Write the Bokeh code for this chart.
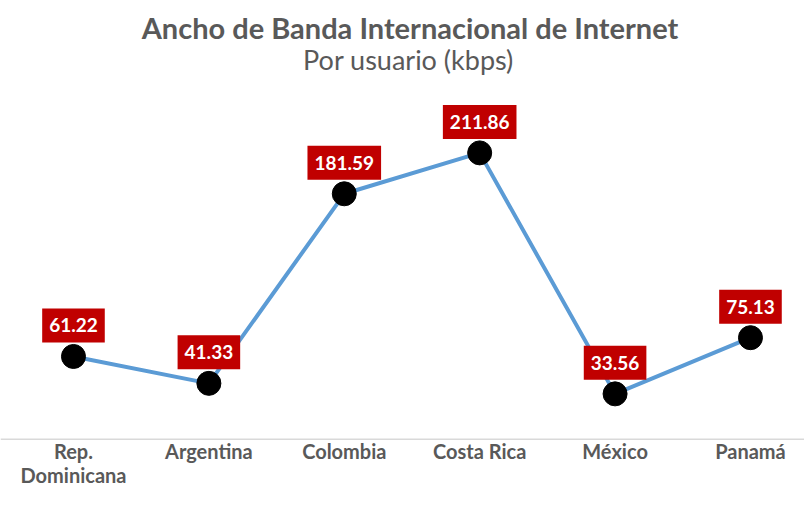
from bokeh.plotting import figure
from bokeh.models import Range1d, Label, ColumnDataSource, Span
from bokeh.core.properties import value
from bokeh.embed import file_html
from bokeh.resources import INLINE

categories = ["Rep.\nDominicana", "Argentina", "Colombia", "Costa Rica", "México", "Panamá"]
values = [61.22, 41.33, 181.59, 211.86, 33.56, 75.13]
label_texts = ["61.22", "41.33", "181.59", "211.86", "33.56", "75.13"]
xs = list(range(len(categories)))
baseline = [0] * len(categories)

src = ColumnDataSource(dict(x=xs, y=values, t=label_texts, cat=categories, base=baseline))

W, H = 804, 494
p = figure(width=W, height=H, output_backend="svg", toolbar_location=None,
           x_range=Range1d(-0.539, 5.399), y_range=Range1d(-40.9, 324.6),
           min_border_left=0, min_border_right=0, min_border_top=0, min_border_bottom=0)
p.outline_line_color = None
p.grid.visible = False
p.axis.visible = False

p.add_layout(Span(location=0, dimension="width", line_color="#D9D9D9", line_width=1.5))

p.line("x", "y", source=src, line_color="#5B9BD5", line_width=4)
p.scatter("x", "y", source=src, size=24, fill_color="black", line_color="black")

p.text("x", "y", text="t", source=src, y_offset=-31, text_align="center", text_baseline="middle",
       text_font=value("Lato"), text_font_style="bold", text_font_size="19px", text_color="white",
       background_fill_color="#C00000", padding=dict(left=7, right=7, top=10, bottom=10))

p.text("x", "base", text="cat", source=src, y_offset=0, text_align="center", text_baseline="top",
       text_font=value("Lato"), text_font_style="bold", text_font_size="20px", text_color="#595959",
       text_line_height=1.0)

p.add_layout(Label(x=409.5, y=H - 27, x_units="screen", y_units="screen",
                   text="Ancho de Banda Internacional de Internet",
                   text_align="center", text_baseline="alphabetic", text_font="Lato", text_font_style="bold",
                   text_font_size="29px", text_color="#595959"))
p.add_layout(Label(x=408, y=H - 59, x_units="screen", y_units="screen", text="Por usuario (kbps)",
                   text_align="center", text_baseline="alphabetic", text_font="Lato",
                   text_font_size="27px", text_color="#595959"))

open("out.html", "w").write(file_html(p, INLINE))
